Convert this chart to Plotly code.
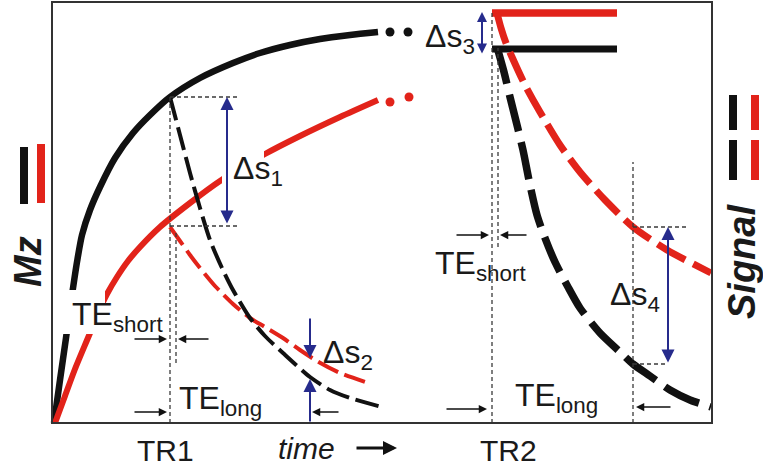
import plotly.graph_objects as go

# ---------------- data (time units on x, Mz / signal units on y) ----------------
# Mz recovery curves (solid)
blk_rec_t = [2, 8, 14, 20, 25, 30, 38, 48, 63, 81, 98, 118, 148, 181, 208, 238, 268, 298, 326]
blk_rec_m = [0, 43, 85, 128, 161, 188, 213, 236, 265, 290, 308, 326, 345, 360, 370, 378, 384, 388, 391]
red_rec_t = [3, 13, 23, 38, 46, 55, 65, 76, 88, 108, 138, 168, 213, 248, 288, 326]
red_rec_m = [0, 27, 54, 90, 110, 129, 146, 162, 176, 196, 220, 242, 269, 287, 306, 323]
blk_dots_t = [338, 356]
blk_dots_m = [391, 391]
red_dots_t = [338, 357]
red_dots_m = [321, 326]

# signal decay after TR1 (dashed)
blk_dec1_t = [118, 128, 138, 148, 158, 170, 181, 198, 213, 231, 258, 278, 298, 330]
blk_dec1_m = [326, 288, 250, 215, 183, 155, 133, 105, 87, 70, 46, 33, 25, 16]
red_dec1_t = [118, 128, 138, 148, 163, 181, 198, 213, 231, 248, 265, 288, 316]
red_dec1_m = [196, 182, 168, 155, 137, 119, 105, 96, 85, 73, 62, 50, 40]

# full relaxation levels and decay after TR2
level_t = [440, 565]
red_level = 410
blk_level = 374
blk_dec2_t = [445, 452, 458, 465, 471, 478, 485, 493, 503, 516, 528, 548, 568, 581, 598, 618, 638, 659]
blk_dec2_m = [376, 351, 326, 298, 273, 238, 208, 185, 161, 136, 115, 90, 71, 59, 47, 33, 23, 16]
red_dec2_t = [445, 449, 454, 460, 473, 488, 508, 528, 553, 581, 615, 659]
red_dec2_m = [410, 395, 380, 366, 338, 311, 278, 251, 223, 196, 173, 150]

# reference times
TR1, TR2 = 118, 440
TE_short_1, TE_short_2 = 124, 446
TE_long_1, TE_long_2 = 258, 581
T_END, M_TOP = 660, 421

tick_labels = ["TR1", "TR2"]

BLACK = "#111111"
RED = "#e2231a"
BLUE = "#262b8c"
GRAY = "#3a3a3a"
FONT = "Liberation Sans, Arial, Helvetica, sans-serif"

fig = go.Figure()


def line(t, m, color, width, dash="solid"):
    fig.add_trace(go.Scatter(x=t, y=m, mode="lines",
                             line=dict(color=color, width=width, dash=dash, shape="spline", smoothing=0.7),
                             hoverinfo="skip", showlegend=False))


line(blk_rec_t, blk_rec_m, BLACK, 6.5)
line(red_rec_t, red_rec_m, RED, 6)
fig.add_trace(go.Scatter(x=blk_dots_t, y=blk_dots_m, mode="markers",
                         marker=dict(color=BLACK, size=9), hoverinfo="skip", showlegend=False))
fig.add_trace(go.Scatter(x=red_dots_t, y=red_dots_m, mode="markers",
                         marker=dict(color=RED, size=9), hoverinfo="skip", showlegend=False))
line(red_dec1_t, red_dec1_m, RED, 4, "22px,7px")
line(blk_dec1_t, blk_dec1_m, BLACK, 4, "24px,7px")
line(level_t, [blk_level, blk_level], BLACK, 7)
line(level_t, [red_level, red_level], RED, 7.5)
line(blk_dec2_t, blk_dec2_m, BLACK, 7.5, "38px,11px")
line(red_dec2_t, red_dec2_m, RED, 7, "32px,9px")

shapes = []
# white boxes where labels interrupt curves
shapes.append(dict(type="rect", x0=8, x1=53, y0=89, y1=133, fillcolor="white", line=dict(width=0), layer="above"))
shapes.append(dict(type="rect", x0=170, x1=212, y0=231, y1=278, fillcolor="white", line=dict(width=0), layer="above"))


def gline(x0, y0, x1, y1):
    shapes.append(dict(type="line", x0=x0, y0=y0, x1=x1, y1=y1, layer="above",
                       line=dict(color=GRAY, width=1.3, dash="4px,3px")))


gline(TR1, 0, TR1, 326)
gline(TE_short_1, 60, TE_short_1, 193)
gline(TR1, 326, 185, 326)
gline(TR1, 197, 185, 197)
gline(TR2, 0, TR2, 411)
gline(TE_short_2, 176, TE_short_2, 375)
gline(TE_long_2, 0, TE_long_2, 261)
gline(TE_long_2, 196, 637, 196)
gline(TE_long_2, 59, 616, 59)

# frame
shapes.append(dict(type="rect", x0=0, x1=T_END, y0=0, y1=M_TOP, line=dict(color="#333333", width=2), layer="above"))

# legend-like bars
def bar(x, y0, y1, color):
    shapes.append(dict(type="line", x0=x, x1=x, y0=y0, y1=y1, line=dict(color=color, width=8)))


bar(-28, 219, 276, BLACK)
bar(-11, 220, 279, RED)
bar(681, 293, 328, BLACK)
bar(681, 243, 283, BLACK)
bar(703, 293, 328, RED)
bar(703, 243, 283, RED)

anns = []


def arrow(x, y, ax, ay, color, width, size, both=False, head=2):
    anns.append(dict(x=x, y=y, ax=ax, ay=ay, xref="x", yref="y", axref="x", ayref="y", text="",
                     showarrow=True, arrowhead=head, arrowsize=size, arrowwidth=width, arrowcolor=color,
                     startarrowhead=head, startarrowsize=size,
                     arrowside="end+start" if both else "end", standoff=0, startstandoff=0))


# blue delta arrows
arrow(175, 326, 175, 198, BLUE, 2, 1.3, both=True)
arrow(258, 65, 258, 106, BLUE, 2, 1.3)
arrow(258, 44, 258, 0, BLUE, 2, 1.3)
arrow(430, 411, 430, 368, BLUE, 2, 1.0, both=True)
arrow(616, 196, 616, 59, BLUE, 2, 1.3, both=True)

# black TE arrows
arrow(115, 84, 81, 84, BLACK, 1.5, 1.1)
arrow(126, 84, 158, 84, BLACK, 1.5, 1.1)
arrow(115, 11, 81, 11, BLACK, 1.5, 1.1)
arrow(260, 11, 288, 11, BLACK, 1.5, 1.1)
arrow(437, 188, 403, 188, BLACK, 1.5, 1.1)
arrow(448, 188, 476, 188, BLACK, 1.5, 1.1)
arrow(435, 14, 393, 14, BLACK, 1.5, 1.1)
arrow(584, 16, 620, 16, BLACK, 1.5, 1.1)
# time arrow
arrow(345, -25, 303, -25, BLACK, 2.8, 1.0)


def text(x, y, s, size, xanchor="center", yanchor="middle", angle=0):
    anns.append(dict(x=x, y=y, xref="x", yref="y", text=s, showarrow=False, xanchor=xanchor, yanchor=yanchor,
                     textangle=angle, font=dict(family=FONT, size=size, color="#1a1a1a")))


text(65, 107, "TE<sub>short</sub>", 32)
text(168, 23, "TE<sub>long</sub>", 32)
text(428, 158, "TE<sub>short</sub>", 32)
text(504, 26, "TE<sub>long</sub>", 32)
text(206, 253, "Δs<sub>1</sub>", 32)
text(296, 69, "Δs<sub>2</sub>", 32)
text(398, 385, "Δs<sub>3</sub>", 32)
text(583, 127, "Δs<sub>4</sub>", 32)
text(113, -27, tick_labels[0], 30)
text(456, -27, tick_labels[1], 30)
text(254, -25, "<i>time</i>", 30)
text(-24, 161, "<b><i>Mz</i></b>", 38, angle=-90)
text(690, 161, "<b><i>Signal</i></b>", 38, angle=-90)

fig.update_layout(
    width=763, height=470, autosize=False,
    margin=dict(l=0, r=0, t=0, b=0),
    paper_bgcolor="white", plot_bgcolor="white",
    xaxis=dict(range=[-52, 711], visible=False, fixedrange=True),
    yaxis=dict(range=[-47, 423], visible=False, fixedrange=True),
    shapes=shapes, annotations=anns, showlegend=False,
)

fig.write_html("out.html")
